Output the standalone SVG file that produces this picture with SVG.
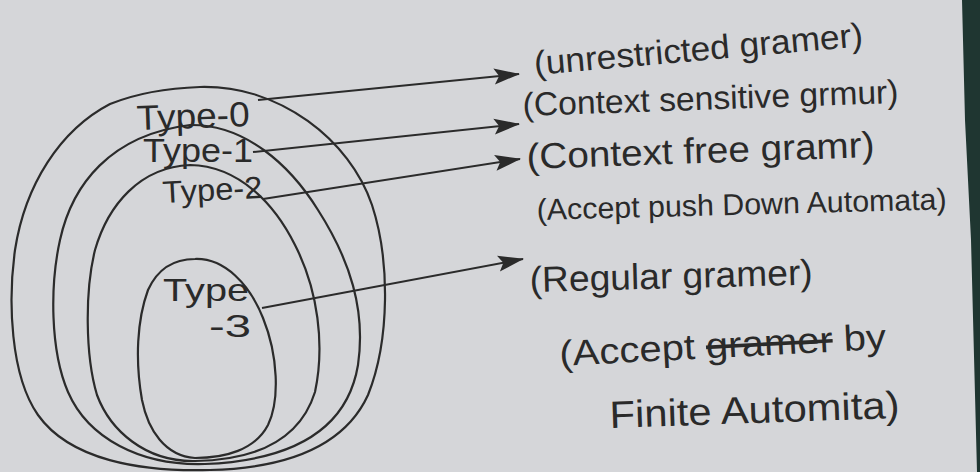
<svg xmlns="http://www.w3.org/2000/svg" width="980" height="472" viewBox="0 0 980 472">
  <defs>
    <marker id="head" viewBox="0 0 26 18" refX="25" refY="9" markerWidth="26" markerHeight="18" markerUnits="userSpaceOnUse" orient="auto">
      <path d="M0,1 L26,9 L0,17 L5,9 Z" fill="#2a2a2a"/>
    </marker>
  </defs>
  <style>
    .loop { fill: none; stroke: #2b2b2b; stroke-width: 2.2; stroke-linejoin: round; }
    .conn { fill: none; stroke: #2b2b2b; stroke-width: 2; marker-end: url(#head); }
    .hand { font-family: "Liberation Sans", "DejaVu Sans", sans-serif; fill: #2a2a2a; }
    .strike { text-decoration: line-through; }
  </style>
  <rect x="0" y="0" width="980" height="472" fill="#d5d6d9"/>
  <polygon points="962,0 980,0 980,472 977,472 971,240 965,120" fill="#1f3631"/>

  <g id="node-type0">
    <path class="loop" d="M200,87 C280,85 350,140 372,205 C390,260 390,340 368,395 C345,445 290,468 210,470 C140,472 70,460 38,415 C10,375 8,300 15,250 C25,185 60,130 110,104 C140,92 170,88 200,87 Z"/>
    <text class="hand" x="137" y="130" font-size="35" textLength="113" lengthAdjust="spacingAndGlyphs" transform="rotate(-2 137 130)">Type-0</text>
  </g>
  <g id="node-type1">
    <path class="loop" d="M190,125 C245,124 290,165 318,210 C350,260 366,310 358,365 C348,425 300,460 205,464 C140,466 88,438 68,392 C50,350 50,285 60,240 C72,185 110,135 190,125 Z"/>
    <text class="hand" x="143" y="162" font-size="34" textLength="110" lengthAdjust="spacingAndGlyphs">Type-1</text>
  </g>
  <g id="node-type2">
    <path class="loop" d="M190,165 C240,166 275,205 295,245 C318,290 325,345 315,392 C300,440 255,460 195,461 C145,462 110,430 97,395 C85,355 85,290 95,250 C108,205 140,167 190,165 Z"/>
    <text class="hand" x="163" y="203" font-size="31" textLength="100" lengthAdjust="spacingAndGlyphs" transform="rotate(-3 163 203)">Type-2</text>
  </g>
  <g id="node-type3">
    <path class="loop" d="M195,259 C225,258 250,285 263,318 C278,355 280,400 268,425 C255,450 225,458 195,458 C165,456 148,430 142,400 C135,360 137,320 148,290 C158,268 175,259 195,259 Z"/>
    <text class="hand" x="163" y="301" font-size="32" textLength="86" lengthAdjust="spacingAndGlyphs">Type</text>
    <text class="hand" x="209" y="337" font-size="32" textLength="42" lengthAdjust="spacingAndGlyphs">-3</text>
  </g>

  <g id="connectors">
    <path class="conn" d="M258,100 L519,74"/>
    <path class="conn" d="M253,152 L519,124"/>
    <path class="conn" d="M263,199 L520,159"/>
    <path class="conn" d="M262,308 L523,259"/>
  </g>

  <g id="desc-type0">
    <text class="hand" x="535" y="75" font-size="34" textLength="330" lengthAdjust="spacingAndGlyphs" transform="rotate(-5 535 75)">(unrestricted gramer)</text>
  </g>
  <g id="desc-type1">
    <text class="hand" x="523" y="116" font-size="33" textLength="376" lengthAdjust="spacingAndGlyphs" transform="rotate(-2 523 116)">(Context sensitive grmur)</text>
  </g>
  <g id="desc-type2">
    <text class="hand" x="527" y="169" font-size="36" textLength="348" lengthAdjust="spacingAndGlyphs" transform="rotate(-2 527 169)">(Context free gramr)</text>
    <text class="hand" x="537" y="220" font-size="30" textLength="410" lengthAdjust="spacingAndGlyphs" transform="rotate(-1.5 537 220)">(Accept push Down Automata)</text>
  </g>
  <g id="desc-type3">
    <text class="hand" x="530" y="292" font-size="36" textLength="283" lengthAdjust="spacingAndGlyphs" transform="rotate(-1.5 530 292)">(Regular gramer)</text>
    <text class="hand" x="560" y="366" font-size="36" textLength="327" lengthAdjust="spacingAndGlyphs" transform="rotate(-3 560 366)">(Accept <tspan class="strike">gramer</tspan> by</text>
    <text class="hand" x="610" y="428" font-size="38" textLength="290" lengthAdjust="spacingAndGlyphs" transform="rotate(-2 610 428)">Finite Automita)</text>
  </g>
</svg>
